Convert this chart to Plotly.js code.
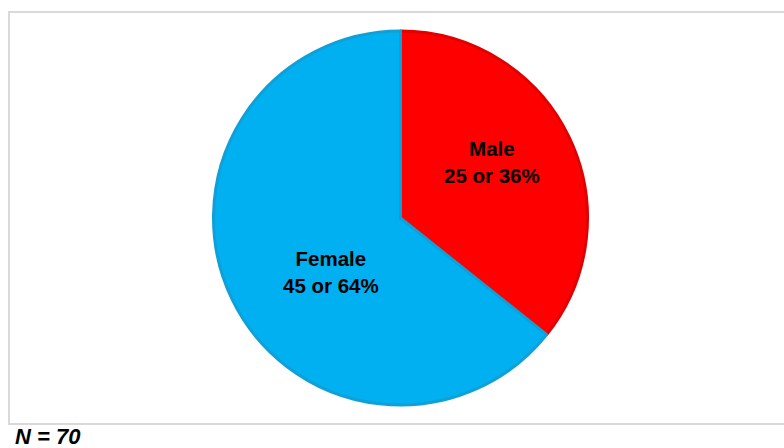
<!DOCTYPE html>
<html>
<head>
<meta charset="utf-8">
<script src="https://cdn.plot.ly/plotly-3.0.1.min.js"></script>
<style>
  html, body { margin: 0; padding: 0; background: #ffffff; }
  #chart { width: 784px; height: 448px; }
</style>
</head>
<body>
<div id="chart"></div>
<script>
// Respondents by gender
const genders = ['Male', 'Female'];
const counts = [25, 45];
const sliceColors = ['#FF0000', '#00B0F0'];
const sliceEdges = ['#E00000', '#0FA0D8'];

const total = counts.reduce((a, b) => a + b, 0);

const W = 784, H = 448;
const cx = 400.5, cy = 218, r = 187;

// label centres, in pixels from the top-left corner
const labelAnchors = [[492, 162], [331, 272]];

const labelFont = { family: 'Arial, "Liberation Sans", sans-serif', size: 20.5, color: '#000000' };

const trace = {
  type: 'pie',
  labels: genders,
  values: counts,
  sort: false,
  direction: 'clockwise',
  rotation: 0,
  marker: { colors: sliceColors, line: { color: sliceEdges, width: 3 } },
  textinfo: 'none',
  hoverinfo: 'skip',
  showlegend: false,
  domain: {
    x: [(cx - r) / W, (cx + r) / W],
    y: [1 - (cy + r) / H, 1 - (cy - r) / H]
  }
};

const sliceLabels = genders.map((g, i) => ({
  xref: 'paper', yref: 'paper',
  x: labelAnchors[i][0] / W, y: 1 - labelAnchors[i][1] / H,
  xanchor: 'center', yanchor: 'middle',
  showarrow: false,
  text: '<b>' + g + '<br>' + counts[i] + ' or ' + Math.round(counts[i] / total * 100) + '%</b>',
  font: labelFont
}));

const layout = {
  width: W,
  height: H,
  margin: { l: 0, r: 0, t: 0, b: 0 },
  paper_bgcolor: '#ffffff',
  showlegend: false,
  shapes: [{
    type: 'rect', xref: 'paper', yref: 'paper',
    x0: 9 / W, x1: 790 / W, y0: 1 - 424 / H, y1: 1 - 12 / H,
    line: { color: '#D9D9D9', width: 2 },
    fillcolor: 'rgba(0,0,0,0)',
    layer: 'below'
  }],
  annotations: sliceLabels.concat([{
    xref: 'paper', yref: 'paper',
    x: 14 / W, y: 1 - 436.5 / H,
    xanchor: 'left', yanchor: 'middle',
    showarrow: false,
    borderpad: 0,
    text: '<b><i>N = ' + total + '</i></b>',
    font: { family: 'Arial, "Liberation Sans", sans-serif', size: 22, color: '#000000' }
  }])
};

Plotly.newPlot('chart', [trace], layout, { staticPlot: true, displayModeBar: false });
</script>
</body>
</html>
